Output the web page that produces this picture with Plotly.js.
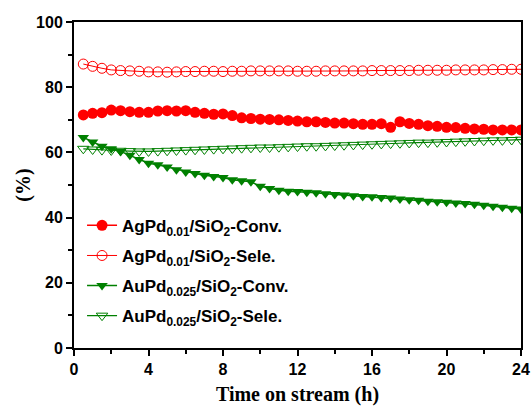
<!DOCTYPE html>
<html>
<head>
<meta charset="utf-8">
<script src="https://cdn.plot.ly/plotly-3.0.1.min.js"></script>
<style>html,body{margin:0;padding:0;background:#fff;}#chart{width:531px;height:407px;}</style>
</head>
<body>
<div id="chart"></div>
<script>
const timeH = [0.5,1,1.5,2,2.5,3,3.5,4,4.5,5,5.5,6,6.5,7,7.5,8,8.5,9,9.5,10,10.5,11,11.5,12,
  12.5,13,13.5,14,14.5,15,15.5,16,16.5,17,17.5,18,18.5,19,19.5,20,20.5,21,21.5,22,22.5,23,23.5,24];

const agConv = [71.5,72.0,72.2,73.0,72.8,72.5,72.3,72.3,72.7,72.8,72.7,72.8,72.3,72.0,71.7,71.8,
  71.3,70.6,70.4,70.2,70.1,70.0,69.8,69.6,69.4,69.4,69.2,69.0,69.0,68.8,68.6,68.6,
  68.8,67.7,69.4,68.9,68.6,68.2,68.0,67.7,67.6,67.4,67.2,67.1,66.9,66.9,66.9,66.9];

const agSele = [87.1,86.4,85.8,85.3,85.1,85.0,84.9,84.7,84.7,84.6,84.7,84.8,84.8,84.9,84.9,84.8,
  84.9,84.9,85.0,85.0,85.0,85.0,85.0,84.9,84.9,84.9,85.0,85.0,85.0,85.0,85.0,85.1,
  85.1,85.1,85.1,85.1,85.2,85.2,85.2,85.2,85.3,85.3,85.3,85.3,85.4,85.4,85.5,85.5];

const auConv = [64.6,63.2,61.9,61.1,60.3,59.1,57.8,56.7,56.2,55.5,54.7,54.0,53.5,53.0,52.6,52.3,
  51.6,51.3,51.0,49.6,48.9,48.4,48.1,48.0,47.8,47.6,47.3,47.1,46.9,46.7,46.5,46.4,
  46.2,46.0,45.7,45.5,45.3,45.0,44.9,44.7,44.5,44.3,44.1,43.8,43.5,43.2,42.9,42.6];

const auSele = [61.1,60.9,60.7,60.6,60.5,60.4,60.3,60.3,60.4,60.5,60.6,60.7,60.8,60.9,61.0,61.1,
  61.2,61.3,61.4,61.5,61.5,61.6,61.7,61.8,61.9,61.9,62.0,62.1,62.2,62.3,62.4,62.5,
  62.6,62.7,62.8,62.9,63.0,63.0,63.1,63.2,63.3,63.4,63.5,63.6,63.7,63.7,63.8,63.9];

const seriesNames = [
  'AgPd<sub>0.01</sub>/SiO<sub>2</sub>-Conv.',
  'AgPd<sub>0.01</sub>/SiO<sub>2</sub>-Sele.',
  'AuPd<sub>0.025</sub>/SiO<sub>2</sub>-Conv.',
  'AuPd<sub>0.025</sub>/SiO<sub>2</sub>-Sele.'
];
const xTicks = [0,4,8,12,16,20,24];
const yTicks = [0,20,40,60,80,100];

const RED = '#ff0000', GREEN = '#008000';

const traces = [
  {x: timeH, y: agConv, name: seriesNames[0], legendgroup: 'a', mode: 'lines+markers',
   line: {color: RED, width: 1.5},
   marker: {symbol: 'circle', size: 11, color: RED, line: {width: 0}}},
  {x: timeH, y: agSele, name: seriesNames[1], legendgroup: 'b', mode: 'lines+markers',
   line: {color: RED, width: 1},
   marker: {symbol: 'circle-open', size: 10, color: RED, line: {width: 1, color: RED}}},
  {x: timeH, y: auConv, name: seriesNames[2], legendgroup: 'c', mode: 'lines+markers',
   line: {color: GREEN, width: 1.5},
   marker: {symbol: 'triangle-down', size: 10, color: GREEN, line: {width: 0}}},
  {x: timeH, y: auSele, name: seriesNames[3], legendgroup: 'd', mode: 'lines+markers',
   line: {color: GREEN, width: 1.2},
   marker: {symbol: 'triangle-down-open', size: 10, color: GREEN, line: {width: 1, color: GREEN}}}
];

const tickFont = {family: 'Liberation Sans, Arial, sans-serif', size: 16, color: '#000', weight: 'bold'};
const titleFont = {family: 'Liberation Serif, Times New Roman, serif', size: 20, color: '#000', weight: 'bold'};

const layout = {
  width: 531, height: 407,
  margin: {l: 74, r: 10, t: 22, b: 59},
  paper_bgcolor: '#fff', plot_bgcolor: '#fff',
  showlegend: true,
  legend: {
    x: 0.018, y: 0.43, xanchor: 'left', yanchor: 'top',
    bgcolor: 'rgba(0,0,0,0)', borderwidth: 0,
    font: {family: 'Liberation Sans, Arial, sans-serif', size: 17, color: '#000', weight: 'bold'},
    tracegroupgap: 5, itemsizing: 'trace'
  },
  xaxis: {
    range: [0, 24], tickvals: xTicks, ticktext: xTicks.map(String),
    showgrid: false, zeroline: false,
    showline: true, linecolor: '#000', linewidth: 2, mirror: true,
    ticks: 'outside', ticklen: 6, tickwidth: 2, tickcolor: '#000',
    minor: {dtick: 2, tick0: 0, ticks: 'outside', ticklen: 4, tickwidth: 2, tickcolor: '#000', showgrid: false},
    tickfont: tickFont,
    title: {text: 'Time on stream (h)', font: titleFont, standoff: 10}
  },
  yaxis: {
    range: [0, 100], tickvals: yTicks, ticktext: yTicks.map(String),
    showgrid: false, zeroline: false,
    showline: true, linecolor: '#000', linewidth: 2, mirror: true,
    ticks: 'outside', ticklen: 6, tickwidth: 2, tickcolor: '#000',
    minor: {dtick: 10, tick0: 0, ticks: 'outside', ticklen: 4, tickwidth: 2, tickcolor: '#000', showgrid: false},
    tickfont: tickFont,
    title: {text: '(%)', font: titleFont, standoff: 0}
  }
};

Plotly.newPlot('chart', traces, layout, {displayModeBar: false});
</script>
</body>
</html>
